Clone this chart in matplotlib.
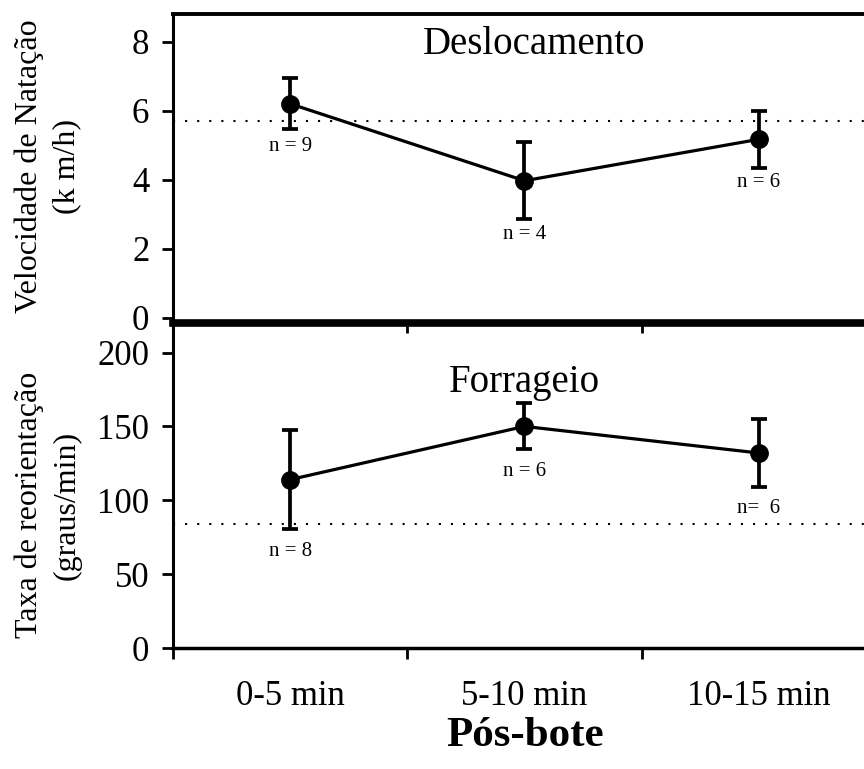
import numpy as np
import matplotlib
matplotlib.use("Agg")
import matplotlib.pyplot as plt

plt.rcParams['font.family'] = ['Liberation Serif', 'DejaVu Serif']

periods = ['0-5 min', '5-10 min', '10-15 min']

# Deslocamento (velocidade de natacao, km/h)
vel_mean = [6.2, 3.97, 5.17]
vel_err = [0.74, 1.11, 0.83]
vel_n = ['n = 9', 'n = 4', 'n = 6']
vel_n_y = [4.96, 2.40, 3.91]
vel_ref = 5.69

# Forrageio (taxa de reorientacao, graus/min)
tax_mean = [114, 150, 132]
tax_err = [33.6, 15.6, 23.0]
tax_n = ['n = 8', 'n = 6', 'n=  6']
tax_n_y = [65.5, 119.5, 94.2]
tax_ref = 84.2

xpos = np.arange(len(periods)) + 0.5

fig = plt.figure(figsize=(8.64, 7.69), dpi=100)
ax1 = fig.add_axes([0.2002, 0.58, 0.8137, 0.4018])
ax2 = fig.add_axes([0.2002, 0.1573, 0.8137, 0.4227])

dots = (0, (1, 4.8))

for ax, mean, err, nlab, ny, ref in [
        (ax1, vel_mean, vel_err, vel_n, vel_n_y, vel_ref),
        (ax2, tax_mean, tax_err, tax_n, tax_n_y, tax_ref)]:
    ax.patch.set_alpha(0)
    ax.axhline(ref, color='black', lw=1.5, ls=dots, zorder=1)
    ax.errorbar(xpos, mean, yerr=err, fmt='-o', color='black', lw=2.3,
                elinewidth=2.7, capsize=6, capthick=2.7, markersize=12.5,
                zorder=3)
    for x, y, t in zip(xpos, ny, nlab):
        ax.text(x, y, t, ha='center', va='center', fontsize=15)
    ax.set_xlim(0, 3)
    ax.set_xticks([0, 1, 2, 3])
    ax.set_xticklabels([])
    ax.tick_params(axis='both', direction='out', width=2, length=8,
                   labelsize=25)
    ax.tick_params(axis='y', pad=9)
    ax.spines['right'].set_visible(False)
    ax.spines['left'].set_linewidth(2.2)

ax1.set_ylim(-0.15, 8.8)
ax1.set_yticks([0, 2, 4, 6, 8])
ax1.spines['top'].set_linewidth(2.8)
ax1.spines['bottom'].set_linewidth(5.5)
ax1.tick_params(axis='x', length=7)
ax1.text(1.54, 7.92, 'Deslocamento', ha='center', va='center', fontsize=28)

ax2.set_ylim(0, 220)
ax2.set_yticks([0, 50, 100, 150, 200])
ax2.spines['top'].set_visible(False)
ax2.spines['bottom'].set_linewidth(2.5)
ax2.set_xticks(xpos, minor=True)
ax2.set_xticklabels(periods, minor=True)
ax2.tick_params(axis='x', which='minor', length=0, pad=23, labelsize=25)
ax2.text(1.5, 180, 'Forrageio', ha='center', va='center', fontsize=28)

fig.text(525 / 864, 1 - 736 / 769, 'Pós-bote', ha='center', va='center',
         fontsize=31, fontweight='bold')
fig.text(48 / 864, 1 - 166 / 769, 'Velocidade de Natação\n(k m/h)',
         rotation=90, ha='center', va='center', fontsize=23,
         linespacing=1.4)
fig.text(48 / 864, 1 - 505 / 769, 'Taxa de reorientação\n(graus/min)',
         rotation=90, ha='center', va='center', fontsize=23,
         linespacing=1.4)

fig.savefig('out.png', dpi=100)
